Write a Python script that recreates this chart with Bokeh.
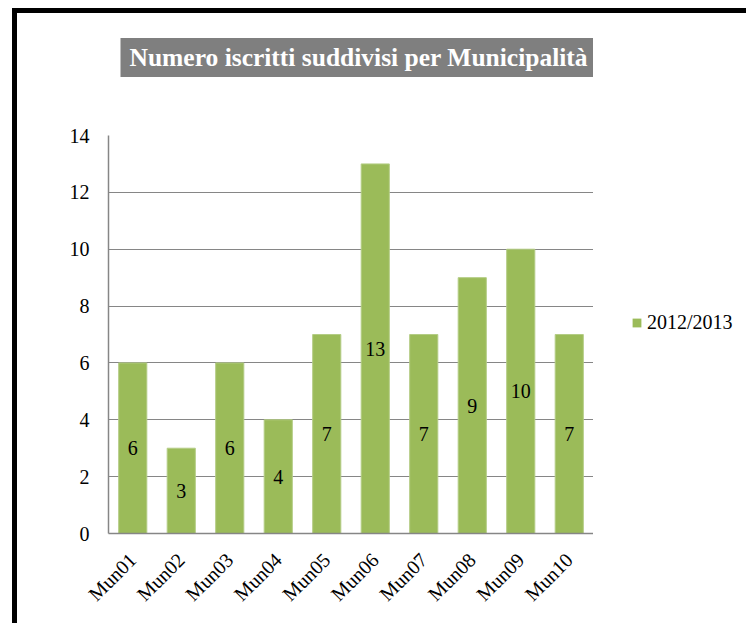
from bokeh.plotting import figure
from bokeh.models import (Range1d, ColumnDataSource, Legend, LegendItem, Title,
                          SingleIntervalTicker)
from bokeh.layouts import row
from bokeh.core.properties import value
from bokeh.embed import file_html
from bokeh.resources import INLINE
import math

categories = ["Mun01", "Mun02", "Mun03", "Mun04", "Mun05",
              "Mun06", "Mun07", "Mun08", "Mun09", "Mun10"]
iscritti_2012_2013 = [6, 3, 6, 4, 7, 13, 7, 9, 10, 7]
series_name = "2012/2013"
title_text = "Numero iscritti suddivisi per Municipalità"

FONT = "Liberation Serif"
GREEN = "#9BBB59"
GRID = "#868686"

src = ColumnDataSource(dict(
    cat=categories,
    val=iscritti_2012_2013,
    mid=[v / 2 for v in iscritti_2012_2013],
    lab=[str(v) for v in iscritti_2012_2013],
))

p = figure(x_range=categories, y_range=Range1d(0, 14),
           width=576, height=610, frame_width=485, frame_height=398,
           output_backend="svg", toolbar_location=None,
           min_border_left=91, min_border_right=0,
           min_border_top=122, min_border_bottom=90)
p.outline_line_color = None
p.background_fill_color = "white"
p.border_fill_color = "white"

bars = p.vbar(x="cat", top="val", width=0.58, source=src,
              fill_color=GREEN, line_color="#B4CD85", line_width=1)

p.text(x="cat", y="mid", text="lab", source=src,
       text_font=value(FONT), text_font_size="20px", text_color="black",
       text_align="center", text_baseline="middle")

# axes
p.yaxis.ticker = SingleIntervalTicker(interval=2)
p.yaxis.major_label_text_font = FONT
p.yaxis.major_label_text_font_size = "20px"
p.yaxis.major_label_text_color = "black"
p.yaxis.major_tick_out = 0
p.yaxis.major_tick_in = 0
p.yaxis.minor_tick_out = 0
p.yaxis.minor_tick_in = 0
p.yaxis.major_label_standoff = 19
p.yaxis.axis_line_color = GRID
p.yaxis.axis_line_width = 1.5

p.xaxis.major_label_orientation = math.pi / 4
p.xaxis.major_label_text_font = FONT
p.xaxis.major_label_text_font_size = "20px"
p.xaxis.major_label_text_color = "black"
p.xaxis.major_tick_out = 0
p.xaxis.major_tick_in = 0
p.xaxis.major_label_standoff = 23
p.xaxis.axis_line_color = GRID
p.xaxis.axis_line_width = 1.5

p.xgrid.grid_line_color = None
p.ygrid.grid_line_color = GRID
p.ygrid.grid_line_width = 1.2

# gap between the title box and the plot area (invisible text)
gap = Title(text=" ", text_font_size="10px", standoff=28)
p.add_layout(gap, "above")
# title
t = Title(text=title_text, align="left", offset=12,
          text_font=FONT, text_font_style="bold", text_font_size="25.5px",
          text_color="white", background_fill_color="#7F7F7F",
          padding=dict(top=5, right=9, bottom=5, left=9), standoff=35)
p.add_layout(t, "above")

# legend area to the right of the plot
q = figure(width=153, height=610, output_backend="svg", toolbar_location=None,
           x_axis_type=None, y_axis_type=None, min_border=0)
q.outline_line_color = None
q.background_fill_color = "white"
q.border_fill_color = "white"
q.xgrid.visible = False
q.ygrid.visible = False
# zero-height placeholder renderer that only provides the legend key colour
key = q.vbar(x=[0], top=[0], bottom=[0], width=0,
             fill_color=GREEN, line_alpha=0)
legend = Legend(items=[LegendItem(label=series_name, renderers=[key])],
                location=(38, 199), orientation="vertical",
                label_text_font=FONT, label_text_font_size="20px",
                label_text_color="black", glyph_width=11, glyph_height=11,
                label_standoff=5, label_height=22, padding=0, margin=0,
                spacing=0, border_line_alpha=0, background_fill_alpha=0)
q.add_layout(legend, "center")

layout = row(p, q, spacing=0)
layout.styles = {"border-top": "5px solid black", "border-left": "5px solid black",
                 "margin-left": "12px", "margin-top": "8px"}

open("out.html", "w").write(file_html(layout, INLINE))
